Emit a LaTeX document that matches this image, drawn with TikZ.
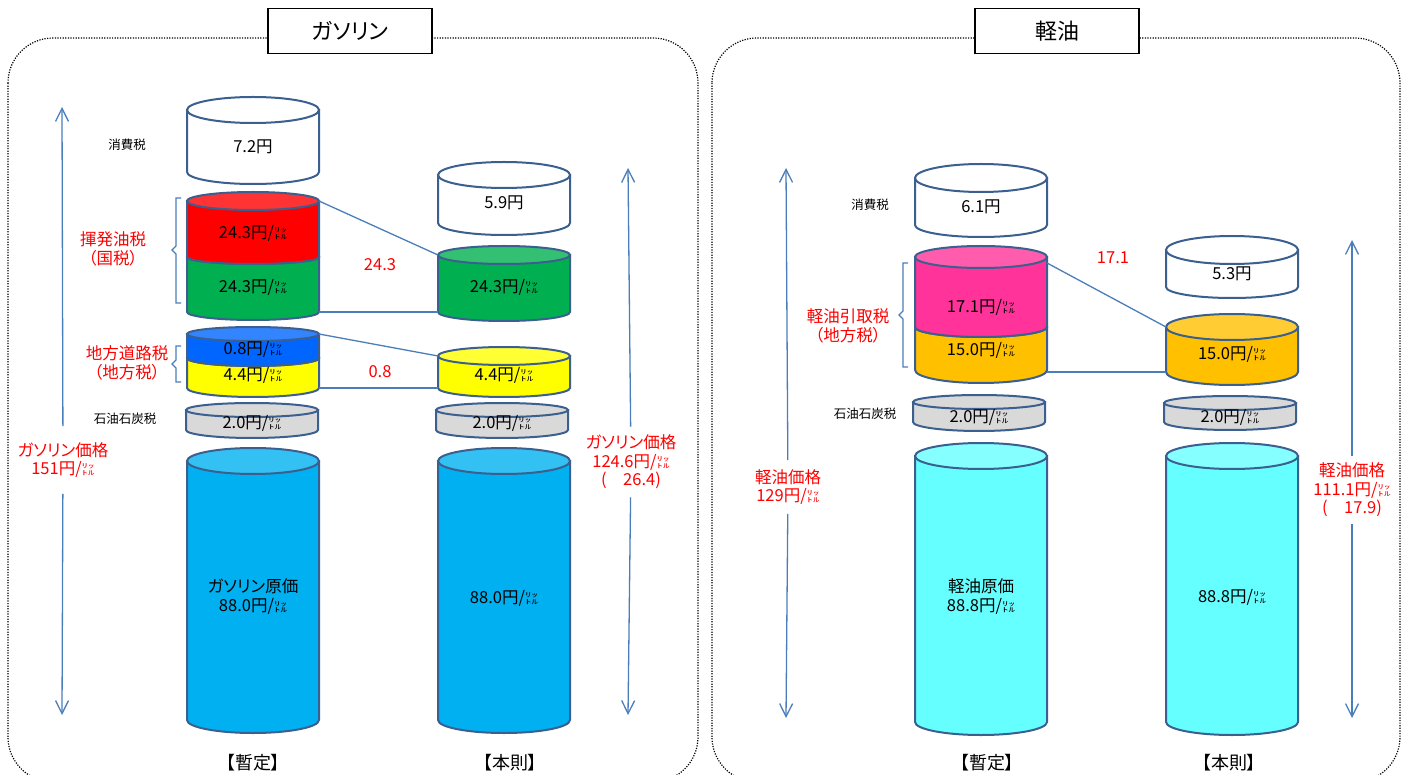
\documentclass[tikz,border=0pt]{standalone}
\usepackage{fontspec}
\setmainfont{Noto Sans CJK JP}[RawFeature=+palt]
\usetikzlibrary{arrows.meta}

\definecolor{tankline}{HTML}{3B5F8F}
\definecolor{joinline}{HTML}{4A7EBB}
\definecolor{taxred}{HTML}{FF0000}
\definecolor{redlid}{HTML}{FF3333}
\definecolor{taxgreen}{HTML}{00B050}
\definecolor{greenlid}{HTML}{33C073}
\definecolor{taxblue}{HTML}{0066FF}
\definecolor{bluelid}{HTML}{3385FF}
\definecolor{taxyellow}{HTML}{FFFF00}
\definecolor{yellowlid}{HTML}{FFFF33}
\definecolor{coalgray}{HTML}{D9D9D9}
\definecolor{crudeblue}{HTML}{00B0F0}
\definecolor{crudelid}{HTML}{33C0F3}
\definecolor{taxpink}{HTML}{FF3399}
\definecolor{pinklid}{HTML}{FF5CAD}
\definecolor{taxorange}{HTML}{FFC000}
\definecolor{orangelid}{HTML}{FFCD33}
\definecolor{crudecyan}{HTML}{66FFFF}
\definecolor{cyanlid}{HTML}{85FFFF}

% yen per litre, litre written small and stacked
\newcommand{\lit}{/\raisebox{-1pt}{\scalebox{1}[0.5]{\fontsize{13}{13}\selectfont\shortstack[l]{ﾘｯ\\ﾄﾙ}}}}

% tank: cx, y top, ry top, y bottom, ry bottom, body colour, lid colour
\newcommand{\tank}[7]{%
  \draw[tankedge, fill=#6] (#1-66,#2) -- (#1-66,#4)
    arc[start angle=180, end angle=0, x radius=66, y radius=#5] -- (#1+66,#2) -- cycle;
  \draw[tankedge, fill=#7] (#1,#2) ellipse[x radius=66, y radius=#3];
}

\begin{document}
\begin{tikzpicture}[x=1pt, y=-1pt,
  tankedge/.style={draw=tankline, line width=2pt},
  joinedge/.style={draw=joinline, line width=1.3pt},
  pricearrow/.style={draw=joinline, line width=1.3pt, -{Straight Barb[length=13pt, width=13pt]}},
  panel/.style={draw=black, line width=1.2pt, dash pattern=on 1.2pt off 1.4pt, rounded corners=45pt},
  titlebox/.style={draw=black, line width=1.5pt, fill=white, minimum width=164pt, minimum height=45pt, font=\fontsize{22}{24}\selectfont},
  val/.style={font=\fontsize{16.5}{19}\selectfont, align=center, inner sep=0pt},
  small/.style={font=\fontsize{12.5}{14}\selectfont},
  redtext/.style={text=red, font=\fontsize{16.5}{18.5}\selectfont, align=center},
  bracket/.style={draw=joinline, line width=1.3pt},
  foot/.style={font=\fontsize{18}{20}\selectfont}]

\useasboundingbox (0,0) rectangle (1408,775);
\clip (0,0) rectangle (1408,775);

% panels
\draw[panel] (8,38) rectangle (698,782);
\draw[panel] (712,38) rectangle (1400,782);
\node[titlebox] (gTitle) at (350,31) {ガソリン};
\node[titlebox] (dTitle) at (1057,31) {軽油};

% ---------------- gasoline, provisional ----------------
\tank{253}{110}{13}{172}{12}{white}{white}
\tank{253}{257}{7}{312}{8}{taxgreen}{greenlid}
\tank{253}{201}{9}{257}{7}{taxred}{redlid}
\tank{253}{358}{8}{388}{9}{taxyellow}{yellowlid}
\tank{253}{334}{7}{358}{8}{taxblue}{bluelid}
\tank{252}{410}{7}{430}{8}{coalgray}{coalgray}
\tank{253}{461}{13}{720}{13}{crudeblue}{crudelid}

\node[val] (gaCons) at (253,147) {7.2円};
\node[val] (gaRed) at (253,233) {24.3円\lit};
\node[val] (gaGreen) at (253,287) {24.3円\lit};
\node[val] (gaBlue) at (253,349) {0.8円\lit};
\node[val] (gaYellow) at (253,375) {4.4円\lit};
\node[val] (gaCoal) at (252,423) {2.0円\lit};
\node[val] (gaCrude) at (253,597) {ガソリン原価\\88.0円\lit};

% ---------------- gasoline, standard ----------------
\tank{504}{175}{13}{223}{12}{white}{white}
\tank{504}{255}{9}{312}{9}{taxgreen}{greenlid}
\tank{504}{356}{9}{388}{9}{taxyellow}{yellowlid}
\tank{502}{410}{7}{430}{8}{coalgray}{coalgray}
\tank{504}{461}{13}{720}{13}{crudeblue}{crudelid}

\node[val] (gbCons) at (504,203) {5.9円};
\node[val] (gbGreen) at (504,287) {24.3円\lit};
\node[val] (gbYellow) at (504,375) {4.4円\lit};
\node[val] (gbCoal) at (502,423) {2.0円\lit};
\node[val] (gbCrude) at (504,598) {88.0円\lit};

% joins between the two columns
\coordinate (gRedTop) at (319,201);
\coordinate (gGreenTop) at (438,255);
\coordinate (gGreenBot) at (319,312);
\coordinate (gGreenBotB) at (438,312);
\coordinate (gBlueTop) at (319,334);
\coordinate (gYellowTop) at (438,356);
\coordinate (gYellowBot) at (319,388);
\coordinate (gYellowBotB) at (438,388);
\draw[joinedge] (gRedTop) -- (gGreenTop);
\draw[joinedge] (gGreenBot) -- (gGreenBotB);
\draw[joinedge] (gBlueTop) -- (gYellowTop);
\draw[joinedge] (gYellowBot) -- (gYellowBotB);
\node[redtext] (gDiffA) at (380,265) {24.3};
\node[redtext] (gDiffB) at (380,372) {0.8};

% side labels
\node[small] (gConsLab) at (127,145) {消費税};
\node[small] (gCoalLab) at (125,419) {石油石炭税};
\node[redtext] (gNatLab) at (113,249) {揮発油税\\（国税）};
\node[redtext] (gLocLab) at (127,363) {地方道路税\\（地方税）};
\draw[bracket] (181,198) -- (176,198) -- (176,246) -- (172,250) -- (176,254) -- (176,303) -- (181,303);
\draw[bracket] (181,346) -- (176,346) -- (176,360) -- (172,364) -- (176,368) -- (176,382) -- (181,382);

% price arrows
\coordinate (gaTop) at (62,107);
\coordinate (gaBot) at (62,715);
\node[redtext, inner ysep=16pt] (gaPrice) at (63,460) {ガソリン価格\\151円\lit};
\draw[pricearrow] (gaPrice) -- (gaTop);
\draw[pricearrow] (gaPrice) -- (gaBot);

\coordinate (gbTop) at (628,168);
\coordinate (gbBot) at (628,715);
\node[redtext, inner ysep=8pt] (gbPrice) at (631,462) {ガソリン価格\\124.6円\lit\\(\hspace{1em}26.4)};
\draw[pricearrow] (gbPrice) -- (gbTop);
\draw[pricearrow] (gbPrice) -- (gbBot);

\node[foot] (gaFoot) at (253,763) {【暫定】};
\node[foot] (gbFoot) at (510,763) {【本則】};

% ---------------- diesel, provisional ----------------
\tank{981}{178}{14}{225}{12}{white}{white}
\tank{981}{327}{10}{370}{13}{taxorange}{orangelid}
\tank{981}{257}{11}{327}{10}{taxpink}{pinklid}
\tank{979}{402}{7}{422}{9}{coalgray}{coalgray}
\tank{981}{456}{13}{722}{13}{crudecyan}{cyanlid}

\node[val] (daCons) at (981,207) {6.1円};
\node[val] (daPink) at (981,307) {17.1円\lit};
\node[val] (daOrange) at (981,350) {15.0円\lit};
\node[val] (daCoal) at (979,417) {2.0円\lit};
\node[val] (daCrude) at (981,597) {軽油原価\\88.8円\lit};

% ---------------- diesel, standard ----------------
\tank{1232}{250}{14}{287}{11}{white}{white}
\tank{1232}{327}{13}{372}{13}{taxorange}{orangelid}
\tank{1230}{403}{7}{422}{8}{coalgray}{coalgray}
\tank{1232}{456}{13}{722}{13}{crudecyan}{cyanlid}

\node[val] (dbCons) at (1232,274) {5.3円};
\node[val] (dbOrange) at (1232,354) {15.0円\lit};
\node[val] (dbCoal) at (1230,417) {2.0円\lit};
\node[val] (dbCrude) at (1232,597) {88.8円\lit};

\coordinate (dPinkTop) at (1047,263);
\coordinate (dOrangeTop) at (1166,327);
\coordinate (dOrangeBot) at (1047,372);
\coordinate (dOrangeBotB) at (1166,372);
\draw[joinedge] (dPinkTop) -- (dOrangeTop);
\draw[joinedge] (dOrangeBot) -- (dOrangeBotB);
\node[redtext] (dDiff) at (1113,258) {17.1};

\node[small] (dConsLab) at (870,205) {消費税};
\node[small] (dCoalLab) at (865,414) {石油石炭税};
\node[redtext] (dLocLab) at (848,326) {軽油引取税\\（地方税）};
\draw[bracket] (908,263) -- (903,263) -- (903,311) -- (899,315) -- (903,319) -- (903,367) -- (908,367);

\coordinate (daTop) at (786,168);
\coordinate (daBot) at (786,718);
\node[redtext, inner ysep=9pt] (daPrice) at (788,487) {軽油価格\\129円\lit};
\draw[pricearrow] (daPrice) -- (daTop);
\draw[pricearrow] (daPrice) -- (daBot);

\coordinate (dbTop) at (1352,240);
\coordinate (dbBot) at (1352,718);
\node[redtext, inner ysep=7pt] (dbPrice) at (1352,490) {軽油価格\\111.1円\lit\\(\hspace{1em}17.9)};
\draw[pricearrow] (dbPrice) -- (dbTop);
\draw[pricearrow] (dbPrice) -- (dbBot);

\node[foot] (daFoot) at (987,763) {【暫定】};
\node[foot] (dbFoot) at (1229,763) {【本則】};
\end{tikzpicture}
\end{document}
